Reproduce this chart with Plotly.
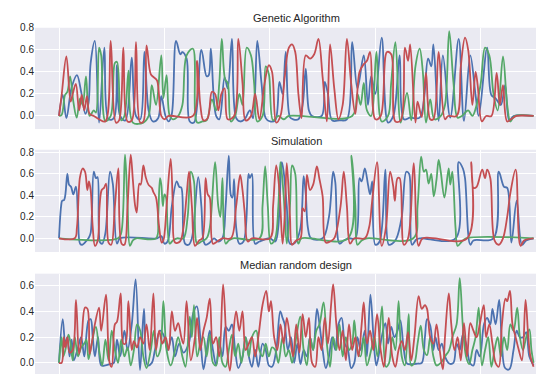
import plotly.graph_objects as go

# ---------------- Genetic Algorithm ----------------
ga_blue_x = [0,3.5,7,12,17,21,25,28,30,34,38,43,47,52,55,58,63,69,73,77,81,85,89,94,97,101,104,107,111,115,117,121,124,128,135,140,142,144,149,152,157,160,164,168,172,176,181,184,188,192,196,200,205,209,212,215,219,222,227,231,234,237,240,249,252,255,259,266,273,278,283,289,293,296,300,306,312,317,323,327,333,342,350,353,355,360,364,371,379,384,390,395,398,406,410,414,419,423,427,431,450]
ga_blue_y = [0,0.19,-0.02,0.26,0.37,0.22,0.02,0.12,0.48,0.68,-0.06,0.62,-0.03,-0.02,0.46,0.0,-0.04,0.53,0.0,-0.03,0.58,0.05,-0.05,-0.02,0.18,0.0,-0.05,0.02,0.68,0.56,0.58,0.52,-0.05,-0.06,0.6,0.36,0.37,0.61,0.0,-0.03,0.35,0.25,0.70,-0.02,-0.05,-0.03,0.05,-0.02,0.68,0.3,-0.02,-0.05,-0.04,0.31,0.2,0.58,-0.01,-0.03,-0.03,0.1,0.43,0.05,0.0,0.0,0.31,0.2,-0.04,-0.04,-0.03,0.67,0.25,0.55,0.1,0.36,0.2,0.71,-0.06,0.0,0.55,-0.03,-0.015,-0.015,0.52,0.45,0.65,-0.045,0.55,-0.015,0.70,-0.045,0.55,0.19,0.0,0.62,0.19,0.16,0.1,0.28,-0.045,0,0]

ga_green_x = [0,2.5,5.7,8,10.5,13.6,16.8,20,22.5,25.6,29,33,35,38,40,44,49,53,55,59,62,66,70,80,85,88,92,97,99,102,105,108,113,117,121,127,131,136,140,145,149,152,154.4,157.6,160,163,167,171,174,178,182,185,188,193,196,199,203,208,213,218,278,283,286,289,292,296,301,306,312,315,319,324,330,334,338,342,345,348,352,356,362,366,370,374,378,382,388,392,396,400,404,408,412,416,421,425,428,432,450]
ga_green_y = [0,0.01,0.19,0.22,0.36,0.13,-0.015,0.16,0.1,0.36,0.0,0.05,0.03,0.62,0.55,-0.045,0.0,0.48,0.49,-0.04,0.0,0.41,-0.06,-0.06,0.0,0.28,0.1,0.55,0.16,0.37,0.0,-0.03,0.0,0.1,0.55,0.61,-0.06,-0.05,-0.04,0.15,0.05,0.3,0.70,0.33,0.3,-0.05,0.0,0.2,0.1,0.62,0.55,0.3,-0.05,0.0,0.45,0.38,-0.04,0.0,-0.03,0.0,0.0,0.2,0.1,0.3,0.05,0.0,0.58,-0.05,0.0,0.3,0.67,-0.06,0.21,-0.04,0.45,0.61,0.4,-0.06,0.15,-0.03,0.0,0.1,0.77,0.31,-0.015,0.0,0.05,0.0,0.1,0.3,0.62,0.55,0.2,0.05,0.54,0.1,-0.05,0.0,0.0]

ga_red_x = [0,2.5,7,11,13,16,19,21.5,24,26.5,29,33,38,44,49,54,57,61,65,69,73,77,80,83,87,90,93,97,100,104,127,131,134,137,141,145,148,151,154,157,160,166,170,174,177,182,186,190,195,199,202,206,210,214,218,221,224,227,230,234,238,242,246,250,254,257,261,265,269,273,277,281,285,289,292,295,300,305,311,315,319,324,328,331,333,338,340,344,348,352,355,360,366,369,377,381,385,388,392,395,397,401,405,410,415,418,421,425,430,434,450]
ga_red_y = [0,0.19,0.54,0.13,0.2,0.29,0.05,0.19,0.05,0.18,0.02,0.0,-0.03,-0.05,0.68,-0.06,-0.04,0.62,-0.05,-0.04,0.67,-0.06,-0.05,0.64,0.38,0.35,0.32,0.0,-0.03,0.0,0.0,0.5,0.1,-0.04,-0.02,0.22,0.2,0.05,0.2,0.25,-0.03,0.0,0.70,0.3,-0.04,0.0,0.2,-0.03,0.3,0.46,0.40,-0.06,0.0,0.35,0.62,0.65,0.58,0.2,-0.02,0.55,0.52,0.56,0.70,0.35,-0.05,0.65,0.25,-0.03,0.1,0.70,0.3,0.02,0.4,0.47,0.5,0.58,-0.03,0.0,0.58,0.56,-0.05,-0.04,0.62,0.5,0.65,-0.06,0.13,-0.01,0.39,-0.03,-0.03,0.58,-0.03,0.0,0.0,0.45,0.71,0.6,0.1,0.4,0.28,-0.05,0.0,0.0,0.39,0.1,0.28,-0.05,-0.02,0.0,0.0]

# ---------------- Simulation ----------------
sim_blue_x = [0,2,3,5,7.9,9.5,11.4,13.6,16.1,18,20,22,25,28,30,33,35,36.5,39,41,44,48.4,51,55,58,93,97,100,103,107,111.6,114,116,119.5,123,126,132,135,137,139,143,147,151,155,158,161,163,164.5,166,168,171,175,179.7,181,183,186,190,200,205,211.2,213,216,219,224,229,232,234,236,239,250,256,260,262,266,270,275,281,285,287,290,293,295,297,300,304,309.5,312.7,316,320,325,329.4,332,334.8,339,343,376,379,383,385,390,393,412,417,422,425,429,434,439,443,450]
sim_blue_y = [0,0.3,0.35,0.36,0.60,0.50,0.48,0.41,0.48,0.2,-0.05,-0.06,-0.035,0.0,0.05,0.62,0.56,0.57,-0.04,-0.05,0.05,0.62,0.51,-0.05,0.0,0.0,0.02,-0.05,-0.03,0.3,0.53,0.48,0.47,-0.05,-0.06,0.0,0.57,0.3,-0.02,-0.06,-0.04,0.0,-0.03,0.0,0.3,0.77,0.4,0.38,0.55,0.1,-0.05,-0.03,0.6,0.56,0.6,-0.05,-0.03,0.0,-0.03,0.71,0.62,0.3,-0.05,-0.04,0.1,0.58,0.41,0.1,0.0,0.0,0.2,0.62,0.52,-0.05,-0.02,0.0,0.0,0.56,0.53,0.65,0.5,0.41,0.53,-0.06,-0.03,0.64,-0.06,-0.05,0.0,0.2,0.62,0.60,-0.06,-0.01,0.0,0.0,0.71,0.65,0.56,-0.06,-0.02,0.0,0.62,0.48,0.47,-0.04,0.35,-0.06,-0.02,0.0]

sim_green_x = [0,56,59,62.6,65,67.3,70,73,92,94,95.8,97,98.5,100,101.5,103,105,108,112,118,122,125,128,131,135,140,143,148,151,153,155,158,161,165,190,193,195.5,198,201,205,208,210,213,216,219,221,224,227,230,274,277.4,281,283,287,292,336,340,343.4,346,348,350.5,353,355.4,358,360,362,365.5,369.5,371,373,376,378,382,386,450]
sim_green_y = [0,0,0.05,0.78,0.3,-0.07,-0.02,0,0,0.2,0.56,0.5,0.3,0.41,0.38,0.1,-0.05,-0.02,0.0,0.0,0.2,0.62,0.53,-0.05,-0.03,0.0,0.1,0.71,0.3,0.2,0.56,-0.05,-0.02,0.0,0.0,0.3,0.67,0.3,-0.05,0.0,0.3,0.71,0.4,-0.05,0.3,0.68,0.6,-0.05,0.0,0.0,0.77,0.3,-0.06,-0.02,0.0,0.0,0.3,0.76,0.62,0.64,0.51,0.6,0.39,0.55,0.73,0.62,0.38,0.65,0.5,0.62,0.1,-0.07,-0.03,0.0,0.0]

sim_red_x = [0,15,17,19.9,22.4,24.7,26.9,28.4,30,32,34.1,36.7,38.5,40.5,42.7,44.6,47,49.5,53,56.3,59.4,62,65,68,70,72.1,73.7,76.2,77.5,80,82.2,84.8,87.9,89.5,92,95,97.4,99,102,105.9,108,110,114.7,118,121,123.3,126,129,133,136,139,141,143,146,150,155,163,168,171.8,174,176,179,183,200,203,206,209,212,214,216,219,221,225,229,231,233,235.1,238,241,244.5,247,250,253,257,261,267,270,273,276,280,290,294,297,301.6,306,310,314,317,318.5,321,323,327,331,336.4,341,345,387,391,393,396,401.3,404,406,409,413,417,421,425,428,433,437.6,441,450]
sim_red_y = [0,0,0.1,0.57,0.65,0.62,0.45,0.53,0.45,0.1,-0.07,-0.02,0.3,0.45,0.47,0.51,-0.04,-0.06,0.3,0.65,-0.05,-0.06,0.3,0.78,0.55,0.31,0.24,0.51,0.50,0.68,0.57,0.5,0.47,0.43,0.38,0.1,-0.04,-0.02,0.3,0.74,0.3,-0.04,-0.03,0.1,0.4,0.62,0.3,-0.07,-0.02,0.0,0.56,0.41,0.38,-0.05,-0.03,0.0,0.0,0.3,0.59,0.45,0.25,-0.03,0.0,0.0,0.3,0.68,0.45,-0.05,0.2,0.70,0.2,-0.06,-0.02,0.0,0.28,0.25,0.59,0.45,0.5,0.67,0.55,0.39,-0.04,-0.03,0.0,0.3,0.62,0.3,-0.05,0.0,0.0,0.1,0.35,0.71,-0.07,0.1,0.62,0.48,0.35,0.56,0.56,-0.06,0.0,0.70,-0.07,0.0,0.0,0.71,0.47,0.48,0.64,0.56,0.64,0.56,-0.02,-0.06,0.0,0.2,0.42,0.64,-0.07,-0.02,0.0]

# ---------------- Median random design ----------------
rd_blue_x = [0,3.5,6,8,10,12,14,18,21,24,28,30,32,34,37,40,44,48,52,55,58,62,65,69,72.7,76.8,80.6,84,88,91,95.8,99,103,107,110,114,118,123,127.4,130.7,134,137,140,143,146,149,152,155,158,161,164,167,170,174,177,180,183,186,189,193,196,199,202,206,209.8,212,214,217,220,223,226,229,232,235,238,241,244.6,247,250,253,256,259,262,265,268,271,274,277,280,283,286,290,292,295.3,299,301,304,306,309.5,312,315,318,321,323.7,327,330,335,340,344,347,349,352,355,357,360,363,366,370,374,377,380,383,386,390,393,396,399,403,406,409,411,414,417.4,420,423,427,431,434,437,440,443,446,450]
rd_blue_y = [0,0.34,0.15,0.2,0.05,0.18,0.02,0.12,0.2,0.05,0.33,0.34,0.2,0.05,0.2,-0.02,-0.02,-0.01,0.0,0.18,0.05,0.25,0.1,0.3,0.65,-0.056,0.42,-0.02,0.0,0.1,0.25,0.22,0.1,0.2,0.05,0.15,0.08,0.15,0.39,0.44,0.2,-0.05,0.1,0.25,0.1,-0.02,0.15,0.05,0.28,0.25,0.3,0.1,-0.04,0.05,0.2,0.05,-0.03,0.1,-0.03,0.15,0.1,-0.02,-0.03,0.1,0.40,0.35,0.3,0.1,0.2,0.0,0.15,-0.01,0.1,0.05,0.2,0.1,0.42,0.3,0.1,-0.04,0.05,0.2,0.1,0.3,0.35,0.15,0.1,-0.04,0.0,0.2,0.1,0.25,0.05,0.53,0.1,-0.02,0.1,0.2,0.31,0.15,0.28,0.2,0.25,0.33,0.1,-0.005,-0.01,-0.005,0.0,0.2,0.34,0.29,0.1,0.2,0.1,0.15,0.05,-0.005,0.0,0.15,0.1,0.22,0.15,-0.005,-0.02,0.1,0.05,0.3,0.35,0.3,0.42,0.3,0.49,0.15,-0.04,-0.05,0.1,0.25,0.2,0.2,0.24,0.05,-0.02]

rd_green_x = [0,2.5,4,6,9,11,13,15,18,21,24,26,28,31,35,38,41,44,47,50,53,56,59,62,65,68,71,74,77,80,83,87,90,93,96,99,102,106,110,113,117,120,124,126,128,131,134,137,140,143,146,149,152,155,158,161,164,167,170,173,177,180,183,187,190,193,196,199,202,205,208,212,215,218,221,225,228.8,232,235,238,241,244,247,250.9,254,257,260,263,266,269,272,275,278,280,283,286,289,292,296,299,302,306.3,310,313,316,319,322,325,328,331.6,334,337,340,343,346,349,352,355,358,362,366,370,373,377,380,383,386,389,392,395,398,401,404,407,410,413,416,419,422,425,428,431,434.5,437,440,443,446,448,450]
rd_green_y = [0,0.2,0.05,0.1,0.22,0.15,0.02,0.2,0.05,0.12,0.15,0.18,0.03,0.15,0.28,0.1,-0.02,0.18,0.02,0.25,0.1,0.0,0.18,0.05,0.12,-0.02,0.1,0.3,0.25,0.05,-0.04,0.1,0.25,0.05,0.1,0.48,0.1,-0.02,0.1,0.2,0.05,-0.03,0.36,0.2,0.45,0.05,0.15,0.2,0.05,0.22,0.0,-0.02,0.2,0.0,-0.03,0.1,0.22,0.05,0.15,0.0,0.2,0.05,0.2,0.25,0.1,0.05,0.15,0.05,0.12,0.1,0.0,0.2,0.05,0.1,0.0,0.2,0.36,0.1,-0.02,0.2,0.1,0.25,0.3,0.47,0.15,-0.03,0.2,0.1,0.3,0.05,0.2,0.1,0.15,0.33,0.1,0.05,0.2,-0.02,0.1,0.2,0.05,0.44,-0.03,0.0,0.2,0.1,0.48,0.05,-0.02,0.38,-0.02,0.0,0.15,0.29,0.1,0.06,0.2,0.05,-0.02,0.0,0.05,0.1,0.2,0.3,0.66,0.28,0.05,-0.01,0.1,0.2,0.43,-0.02,0.1,0.2,-0.03,0.1,0.2,0.05,0.2,0.1,0.3,0.25,0.43,0.2,0.1,0.2,0.26,0.1,0.0]

rd_red_x = [0,2.5,4.6,6,8,10,13,16.1,19,21.5,24.7,27,29,31,34,38,40,44.6,48,50,53,55,58.5,61,63,65.8,69,71,74,77,80,83,86,89.5,92,95,98,101,104,107,110,113,116,118,121,125,129,131,134,137,140,143,146,149,152,155.6,159,162,165,168,171,174,177,180,183,186,189,193,196.5,199,201,204,207,210,213,216,219,222,225,228,231,234,237,240,243,246,249,252,255,258,260,263,266,269,272,275,278,281,284,287,289,292,295,298,301.6,305,308,310,312.7,316,319,322,325,328,331,334,337,341,344,347,349,352,355,358,361,364,366,369.6,372,375,378,381,384,387,390,393,396,399,402.8,405,408,411,414,417,420,423.4,425,427.6,430,433,436,439,442.4,445,447,450]
rd_red_y = [0,0.0,0.2,0.12,0.2,0.08,0.1,0.49,0.07,0.2,0.43,0.42,0.07,0.15,0.3,0.43,0.25,0.53,0.0,-0.03,0.3,0.32,0.54,0.15,0.15,0.48,0.1,0.17,0.12,0.2,0.15,0.3,0.1,0.54,0.1,0.25,0.15,0.2,0.1,0.40,0.25,0.31,0.2,0.15,0.48,0.02,0.2,0.35,0.1,0.25,0.35,0.5,0.15,0.2,0.05,0.61,0.15,-0.06,0.2,0.4,0.25,0.4,0.1,0.15,0.2,0.05,0.2,0.45,0.56,0.4,0.48,0.2,0.1,0.3,0.15,0.35,0.2,0.05,0.3,0.08,0.38,0.2,0.35,0.0,-0.03,0.2,0.1,0.35,0.15,0.45,0.61,0.3,0.1,0.25,0.02,0.3,0.1,0.2,0.05,0.3,0.47,0.15,0.25,0.1,0.38,0.1,-0.03,0.1,0.35,0.05,-0.03,0.1,0.17,0.1,0.24,0.02,0.2,0.52,0.42,0.45,0.42,0.2,0.15,0.3,0.1,-0.05,0.2,0.54,0.3,0.1,0.2,0.02,0.31,0.05,0.31,0.25,0.2,0.3,0.45,0.2,0.3,0.15,0.0,-0.03,0.3,0.5,0.48,0.56,0.3,0.2,0.1,0.02,0.49,0.2,0.05,-0.03]

BLUE, GREEN, RED = "#4C72B0", "#55A868", "#C44E52"
titles = ["Genetic Algorithm", "Simulation", "Median random design"]
panels = [
    [(ga_blue_x, ga_blue_y, BLUE), (ga_green_x, ga_green_y, GREEN), (ga_red_x, ga_red_y, RED)],
    [(sim_blue_x, sim_blue_y, BLUE), (sim_green_x, sim_green_y, GREEN), (sim_red_x, sim_red_y, RED)],
    [(rd_blue_x, rd_blue_y, BLUE), (rd_green_x, rd_green_y, GREEN), (rd_red_x, rd_red_y, RED)],
]

# page body has an 8px margin; figure is sized so it fills the rest of the window
OFF = 8
W, H = 544 - OFF, 374 - OFF
fig = go.Figure()
for k, series in enumerate(panels):
    ax = "" if k == 0 else str(k + 1)
    for xs, ys, c in series:
        fig.add_trace(go.Scatter(x=xs, y=ys, mode="lines", line=dict(color=c, width=1.8, shape="spline", smoothing=1.0),
                                 xaxis="x" + ax, yaxis="y" + ax, showlegend=False, hoverinfo="skip"))

def py(win_y):
    return 1 - (win_y - OFF) / H

ydoms = [[py(125), py(22)], [py(250), py(146)], [0, py(272)]]
yranges = [[-0.119, 0.8], [-0.128, 0.825], [-0.0865, 0.694]]
yticks = [[0, 0.2, 0.4, 0.6, 0.8], [0, 0.2, 0.4, 0.6, 0.8], [0, 0.2, 0.4, 0.6]]
title_y = [11.7, 137.3, 262.7]

layout = dict(width=W, height=H, margin=dict(l=0, r=0, t=0, b=0), paper_bgcolor="white",
              plot_bgcolor="#EAEAF2", font=dict(family="Liberation Sans, Arial, sans-serif", color="#262626"))
for k in range(3):
    ax = "" if k == 0 else str(k + 1)
    layout["xaxis" + ax] = dict(domain=[(35 - OFF) / W, 1], range=[-22.76, 459.9], tickvals=[0, 100, 200, 300, 400],
                                showticklabels=False, showgrid=True, gridcolor="white", gridwidth=1.2,
                                zeroline=False, showline=False, ticks="", anchor="y" + ax)
    layout["yaxis" + ax] = dict(domain=ydoms[k], range=yranges[k], tickvals=yticks[k], tickformat=".1f",
                                showgrid=True, gridcolor="white", gridwidth=1.2, zeroline=False, showline=False,
                                ticks="", tickfont=dict(size=10, color="#262626"), anchor="x" + ax)
fig.update_layout(**layout)
for k, t in enumerate(titles):
    fig.add_annotation(text=t, x=(296 - OFF) / W, y=py(title_y[k]), xref="paper", yref="paper", showarrow=False,
                       xanchor="center", yanchor="middle", font=dict(size=11, color="#262626"))

fig.write_html("out.html")
